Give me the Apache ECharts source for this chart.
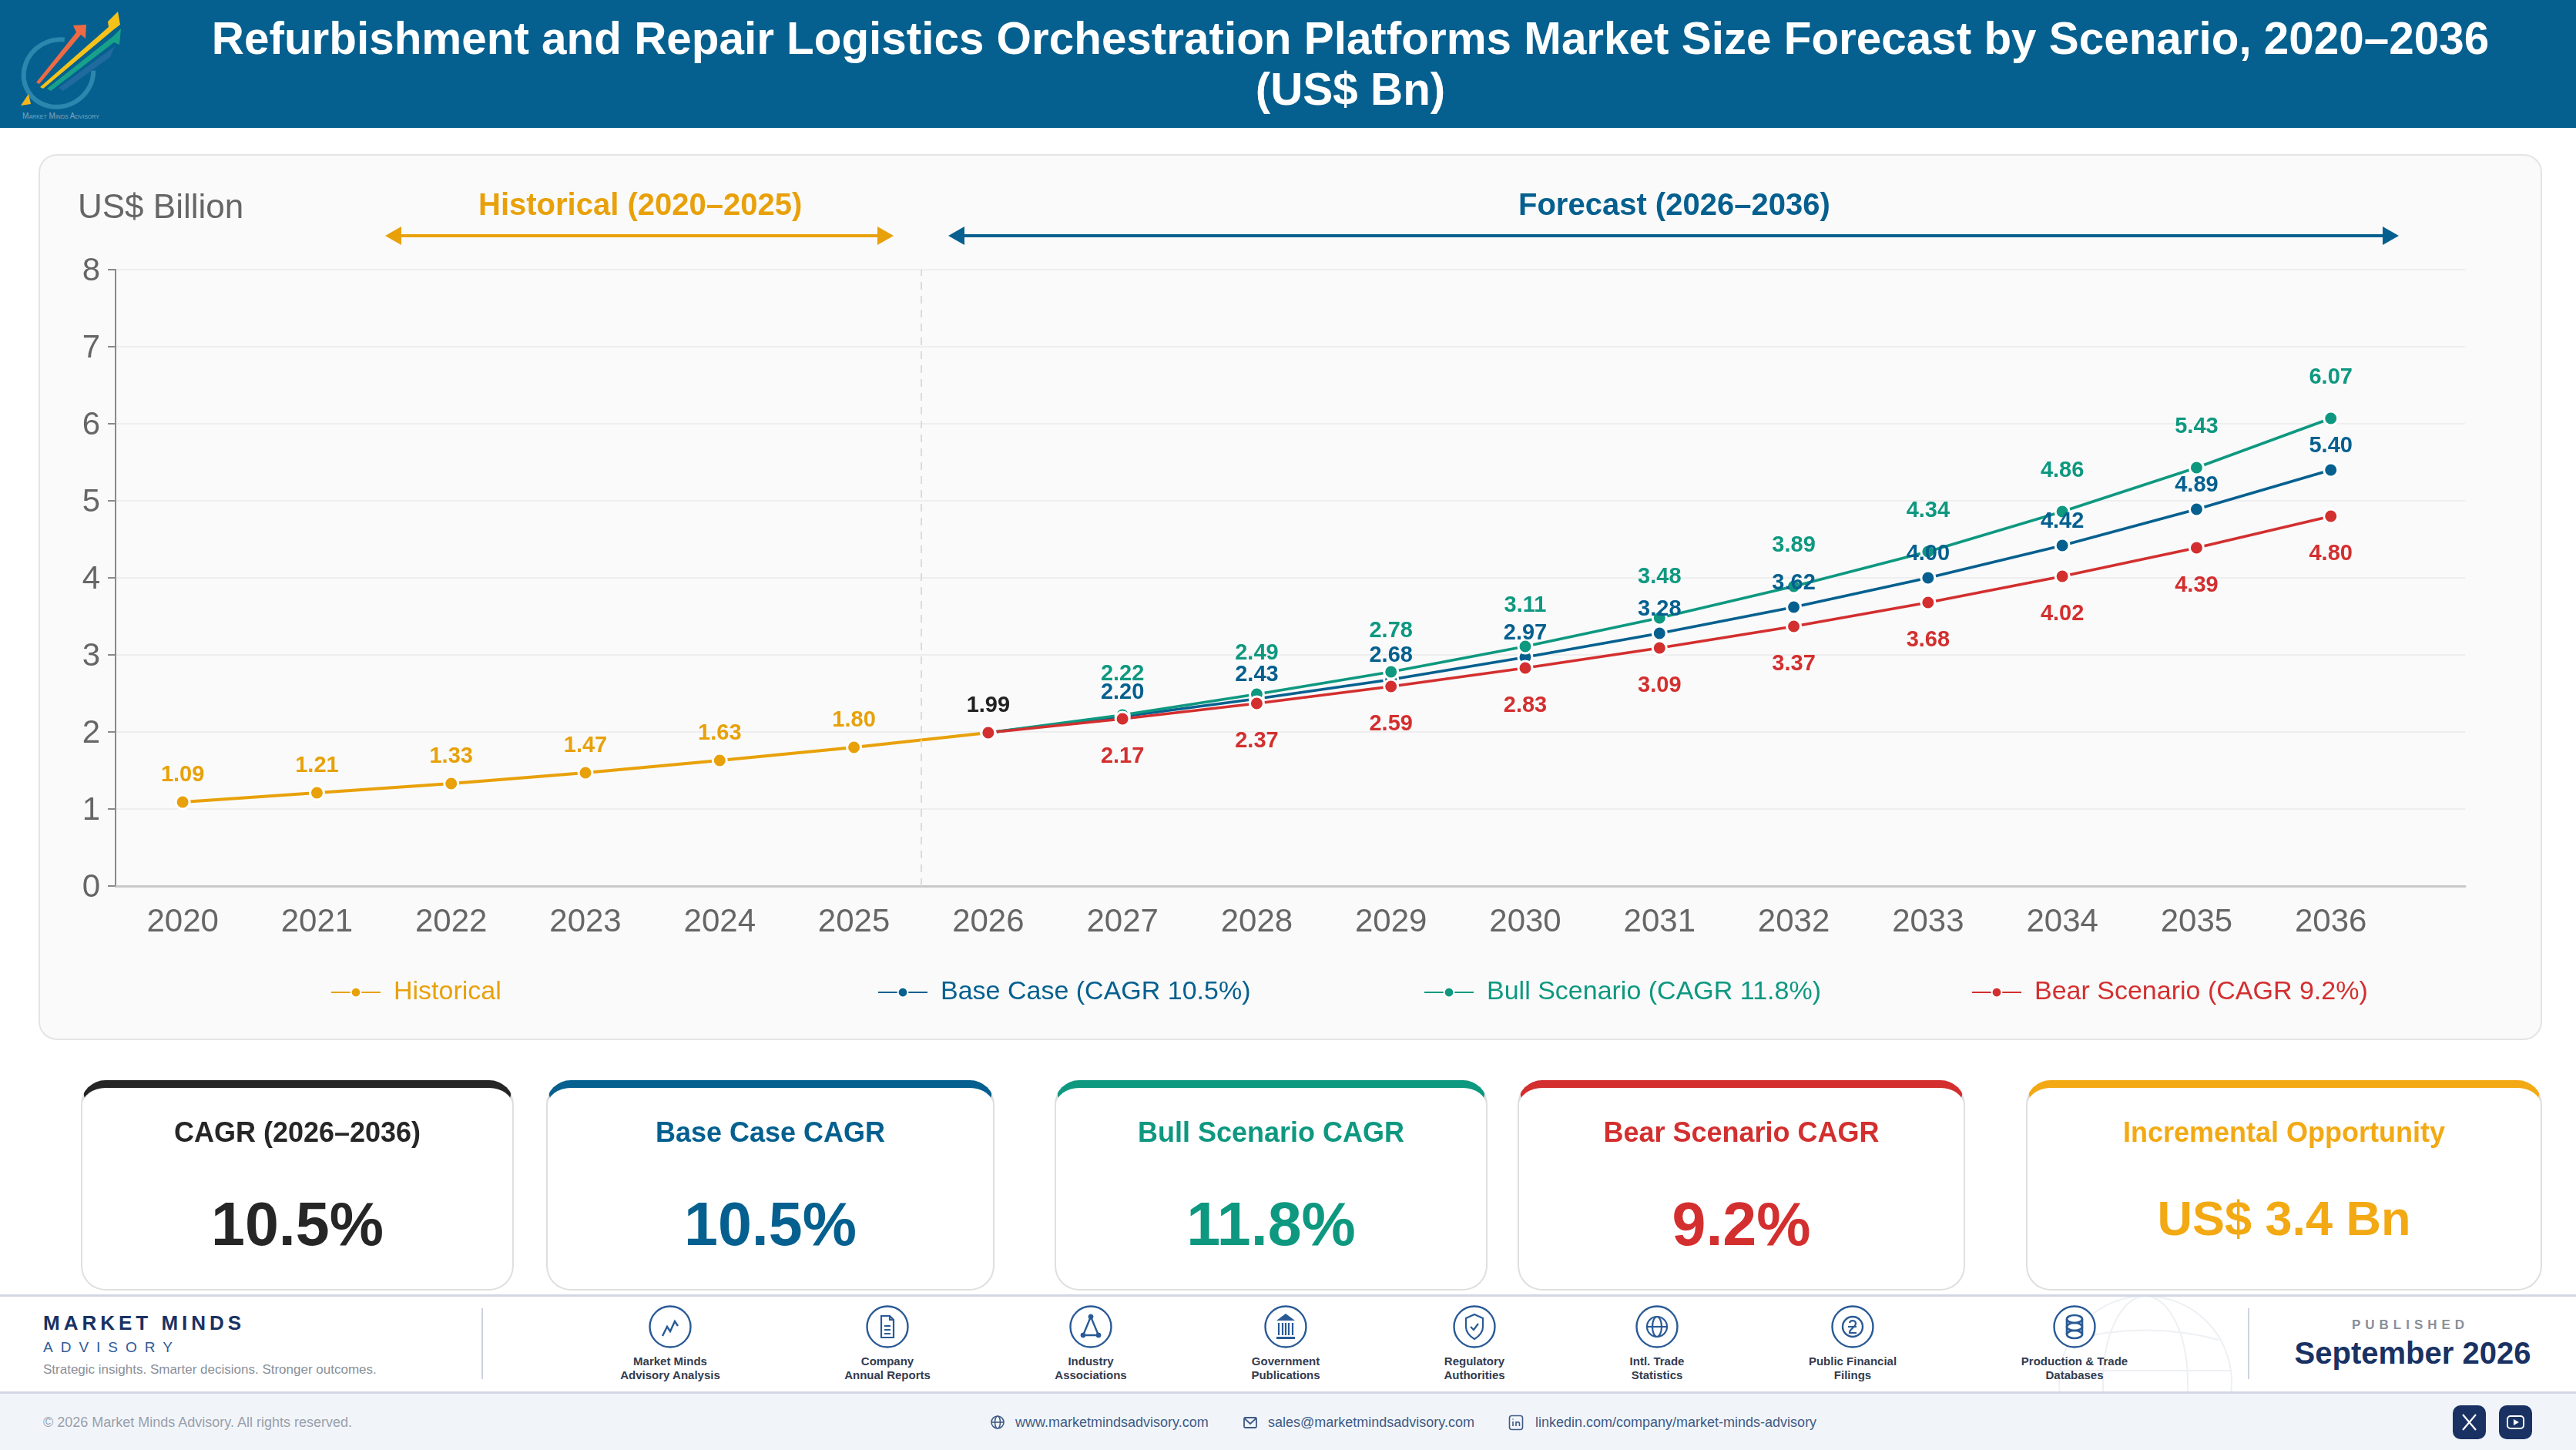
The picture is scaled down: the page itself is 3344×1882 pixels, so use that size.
<!DOCTYPE html>
<html><head><meta charset="utf-8">
<script src="https://cdn.jsdelivr.net/npm/echarts@6/dist/echarts.min.js"></script>
<style>
*{box-sizing:border-box}
html,body{margin:0;padding:0;background:#fff;width:3344px;height:1882px;overflow:hidden;font-family:"Liberation Sans",Arial,sans-serif}
.abs{position:absolute}
#header{left:0;top:0;width:3344px;height:166px;background:#05608f}
#title{left:162px;right:0;top:17px;width:3182px;text-align:center;color:#fff;font-weight:700;font-size:58.4px;line-height:66px}
#chartcard{left:50px;top:200px;width:3250px;height:1150px;background:#fafafa;border:2px solid #e4e4e4;border-radius:24px}
#chart{left:0;top:0;width:3344px;height:1882px}
.kpi{position:absolute;top:1402px;height:273px;background:#fff;border:2px solid #dfdfdf;border-top-width:10px;border-radius:32px;text-align:center}
.kpi .t{position:absolute;left:0;right:0;top:37px;font-size:36px;line-height:42px;font-weight:700}
.kpi .v{position:absolute;left:0;right:0;top:127px;font-size:79px;line-height:100px;font-weight:700}
.kpi.sm .v{font-size:63px;top:119px}
#foot1{left:0;top:1680px;width:3344px;height:129px;background:#fff;border-top:3px solid #d3d6e4;border-bottom:3px solid #d3d6e4;overflow:hidden}
#foot2{left:0;top:1809px;width:3344px;height:73px;background:#f1f5fa}
.vr{position:absolute;top:1698px;height:92px;width:2px;background:#cdd4e0}
.src{position:absolute;top:1694px;width:240px;margin-left:-120px;text-align:center}
.src svg{display:block;margin:0 auto}
.src div{margin-top:8px;font-size:15px;line-height:18px;font-weight:700;color:#333c50}
.txt{position:absolute;white-space:nowrap}
.contact{position:absolute;top:1835px;font-size:18px;line-height:22px;color:#3f5b85;white-space:nowrap}
.soc{position:absolute;top:1824px;width:43px;height:44px;border-radius:10px;background:#1a3263}
</style></head><body>
<div class="abs" id="header"></div>
<svg class="abs" style="left:0;top:0" width="170" height="166" viewBox="0 0 170 166">
  <ellipse cx="76" cy="95" rx="43" ry="46" fill="none" stroke="#2c86ad" stroke-width="6" stroke-dasharray="170 60" transform="rotate(60 76 95)"/>
  <polygon points="76,114 149,60 143,74 82,118" fill="#1f6ba0"/>
  <polygon points="61,115 147,47 157,37 155,58 148,55 66,118" fill="#17a08a"/>
  <polygon points="52,113 141,35 140,28 153,15 156,32 148,38 56,115" fill="#f6c21a"/>
  <polygon points="47,107 99,42 95,33 112,32 111,50 105,45 51,109" fill="#ee6a45"/>
  <polygon points="27,137 37,122 40,135" fill="#f6b51a"/>
  <text x="79" y="154" font-size="10" text-anchor="middle" fill="#7fa6bf" font-family="Liberation Sans" style="font-variant:small-caps">Market Minds Advisory</text>
</svg>
<div class="abs" id="title">Refurbishment and Repair Logistics Orchestration Platforms Market Size Forecast by Scenario, 2020–2036<br>(US$ Bn)</div>
<div class="abs" id="chartcard"></div>
<div class="abs" id="chart"></div>

<div class="kpi" style="left:105px;width:562px;border-top-color:#262626;color:#262626"><div class="t">CAGR (2026–2036)</div><div class="v">10.5%</div></div>
<div class="kpi" style="left:709px;width:582px;border-top-color:#05608f;color:#05608f"><div class="t">Base Case CAGR</div><div class="v">10.5%</div></div>
<div class="kpi" style="left:1369px;width:562px;border-top-color:#0e9880;color:#0e9880"><div class="t">Bull Scenario CAGR</div><div class="v">11.8%</div></div>
<div class="kpi" style="left:1970px;width:581px;border-top-color:#d32f2f;color:#d32f2f"><div class="t">Bear Scenario CAGR</div><div class="v">9.2%</div></div>
<div class="kpi sm" style="left:2630px;width:670px;border-top-color:#f2a913;color:#f2a913"><div class="t">Incremental Opportunity</div><div class="v">US$ 3.4 Bn</div></div>

<div class="abs" id="foot1">
  <svg style="position:absolute;left:2670px;top:-4px" width="230" height="130" viewBox="0 0 230 130" fill="none" stroke="#eef0f4" stroke-width="2">
    <circle cx="115" cy="115" r="112"/><ellipse cx="115" cy="115" rx="55" ry="112"/><line x1="3" y1="100" x2="227" y2="100"/><path d="M20 60 Q115 35 210 60"/>
  </svg>
</div>
<div class="abs" id="foot2"></div>
<div class="txt" style="left:56px;top:1702px;font-size:26px;line-height:30px;font-weight:700;letter-spacing:5px;color:#1a3263">MARKET MINDS</div>
<div class="txt" style="left:56px;top:1738px;font-size:19px;line-height:22px;letter-spacing:10px;color:#2f5a96">ADVISORY</div>
<div class="txt" style="left:56px;top:1768px;font-size:17px;line-height:20px;color:#8a8f98">Strategic insights. Smarter decisions. Stronger outcomes.</div>
<div class="vr" style="left:625px"></div>
<div class="vr" style="left:2918px"></div>
<div id="sources"></div>
<div class="txt" style="width:320px;left:2969px;text-align:center;top:1710px;font-size:17px;line-height:20px;font-weight:700;letter-spacing:6px;color:#8a8f98">PUBLISHED</div>
<div class="txt" style="width:400px;left:2932px;text-align:center;top:1733px;font-size:40px;line-height:46px;font-weight:700;color:#1a3263">September 2026</div>
<div class="txt" style="left:56px;top:1836px;font-size:18px;line-height:20px;color:#9aa0aa">© 2026 Market Minds Advisory. All rights reserved.</div>

<svg class="abs" style="left:1285px;top:1836px" width="20" height="20" viewBox="0 0 20 20" fill="none" stroke="#3f5b85" stroke-width="1.6"><circle cx="10" cy="10" r="8"/><ellipse cx="10" cy="10" rx="3.5" ry="8"/><line x1="2" y1="10" x2="18" y2="10"/></svg>
<div class="contact" style="left:1318px">www.marketmindsadvisory.com</div>
<svg class="abs" style="left:1613px;top:1836px" width="20" height="20" viewBox="0 0 20 20" fill="none" stroke="#3f5b85" stroke-width="1.8"><rect x="2" y="4" width="16" height="13" rx="1.5"/><path d="M2.5 5 L10 12 L17.5 5"/></svg>
<div class="contact" style="left:1646px">sales@marketmindsadvisory.com</div>
<svg class="abs" style="left:1958px;top:1836px" width="20" height="21" viewBox="0 0 20 21" fill="none" stroke="#3f5b85" stroke-width="1.6"><rect x="1.5" y="1.5" width="17" height="18" rx="3"/><path d="M6 9v6M6 5.5v1M10 15V9M10 11.5c1-2.5 4.5-2.5 4.5 .5V15"/></svg>
<div class="contact" style="left:1993px">linkedin.com/company/market-minds-advisory</div>
<div class="soc" style="left:3184px"><svg width="43" height="44" viewBox="0 0 43 44" fill="none" stroke="#fff" stroke-width="2.2"><path d="M13 12 L30 32 M30 12 L13 32"/></svg></div>
<div class="soc" style="left:3244px"><svg width="43" height="44" viewBox="0 0 43 44" fill="none" stroke="#fff" stroke-width="2"><rect x="11" y="14" width="21" height="16" rx="4"/><polygon points="19,18 26,22 19,26" fill="#fff" stroke="none"/></svg></div>

<script>
// ---- chart data ----
const years = [2020,2021,2022,2023,2024,2025,2026,2027,2028,2029,2030,2031,2032,2033,2034,2035,2036];
const historicalYears = years.slice(0,7);
const forecastYears = years.slice(6);
const historical = [1.09,1.21,1.33,1.47,1.63,1.80,1.99];
const baseCase = [1.99,2.20,2.43,2.68,2.97,3.28,3.62,4.00,4.42,4.89,5.40];
const bullCase = [1.99,2.22,2.49,2.78,3.11,3.48,3.89,4.34,4.86,5.43,6.07];
const bearCase = [1.99,2.17,2.37,2.59,2.83,3.09,3.37,3.68,4.02,4.39,4.80];
const yTicks = [0,1,2,3,4,5,6,7,8];
const seriesNames = ['Historical','Base Case (CAGR 10.5%)','Bull Scenario (CAGR 11.8%)','Bear Scenario (CAGR 9.2%)'];

const sources = [
 ['Market Minds','Advisory Analysis',870,'<path d="M8 32 L14 20 L18 26 L24 13 L28 19" fill="none" stroke-width="2.4" transform="translate(10 8)"/>'],
 ['Company','Annual Reports',1152,'<path d="M20 14h11l5 5v23H20z M31 14v5h5 M24 27h8 M24 32h8 M24 37h8" fill="none" stroke-width="2.2"/>'],
 ['Industry','Associations',1416,'<path d="M28 15 L18 39 H38 Z" fill="none" stroke-width="2.4"/><circle cx="28" cy="15" r="3" fill="#2a5a96"/><circle cx="18" cy="39" r="3" fill="#2a5a96"/><circle cx="38" cy="39" r="3" fill="#2a5a96"/>'],
 ['Government','Publications',1669,'<path d="M28 11 L40 20 H16 Z" fill="#2a5a96" stroke="none"/><path d="M19 23v16M24 23v16M28 23v16M32 23v16M37 23v16" stroke-width="2.2"/><rect x="16" y="41" width="24" height="3" fill="#2a5a96" stroke="none"/>'],
 ['Regulatory','Authorities',1914,'<path d="M28 12 L39 17 V28 C39 36 33 41 28 44 C23 41 17 36 17 28 V17 Z" fill="none" stroke-width="2.2"/><path d="M23 28 L27 32 L33 24" fill="none" stroke-width="2.2"/>'],
 ['Intl. Trade','Statistics',2151,'<circle cx="28" cy="28" r="13" fill="none" stroke-width="2.2"/><ellipse cx="28" cy="28" rx="6" ry="13" fill="none" stroke-width="2.2"/><path d="M15 28h26" stroke-width="2.2"/>'],
 ['Public Financial','Filings',2405,'<circle cx="28" cy="28" r="13" fill="none" stroke-width="2.4"/><path d="M24 23 C25 19 32 19 32 24 C32 29 24 30 24 36 H33 M22 28 H33" fill="none" stroke-width="2.2"/>'],
 ['Production & Trade','Databases',2693,'<ellipse cx="28" cy="18" rx="10" ry="5" fill="none" stroke-width="2.6"/><ellipse cx="28" cy="28" rx="10" ry="5" fill="none" stroke-width="2.6"/><ellipse cx="28" cy="38" rx="10" ry="5" fill="none" stroke-width="2.6"/><path d="M18 18v20M38 18v20" stroke-width="2.6"/>']
];
document.getElementById('sources').innerHTML = sources.map(s =>
 `<div class="src" style="left:${s[2]}px"><svg width="56" height="56" viewBox="0 0 56 56" stroke="#2a5a96"><circle cx="28" cy="28" r="26.5" fill="#fff" stroke-width="2.4"/>${s[3]}</svg><div>${s[0].replace('&','&amp;')}<br>${s[1]}</div></div>`).join('');

const C = {hist:'#e8a10a', base:'#05608f', bull:'#0e9880', bear:'#d32f2f', ink:'#222222', axis:'#666666'};
const marker = c => ({color:c, borderColor:'#ffffff', borderWidth:3});
const fmt = p => p.value[1].toFixed(2);
function mk(name, xs, ys, color, pos, dist, width, firstStyle){
  return {
    name, type:'line', symbol:'circle', symbolSize:18, showSymbol:true,
    lineStyle:{color, width}, itemStyle:marker(color),
    label:{show:true, position:pos, distance:dist, color, fontSize:29, fontWeight:700, fontFamily:'Liberation Sans', formatter:fmt},
    emphasis:{disabled:true}, animation:false, clip:false,
    data: xs.map((x,i)=>{
      const d = {value:[x, ys[i]]};
      if (firstStyle && firstStyle(i)) d.label = firstStyle(i);
      return d;
    })
  };
}
const S = [
  mk(seriesNames[0], historicalYears, historical, C.hist, 'top', 10, 4, i => i===6 ? {color:C.ink} : null),
  mk(seriesNames[1], forecastYears, baseCase, C.base, 'top', 6, 3.6, i => i===0 ? {show:false} : null),
  mk(seriesNames[2], forecastYears, bullCase, C.bull, 'top', 28, 3.6, i => i===0 ? {show:false} : null),
  mk(seriesNames[3], forecastYears, bearCase, C.bear, 'bottom', 24, 3.6, i => i===0 ? {show:false} : null)
];
S[0].markLine = {silent:true, symbol:'none', label:{show:false}, animation:false,
  lineStyle:{color:'#dcdcdc', type:[10,8], width:2}, data:[{xAxis:2025.5}]};

function arrow(x1,x2,y,color){
  return [
    {type:'rect', shape:{x:x1+10,y:y-2,width:x2-x1-20,height:4}, style:{fill:color}},
    {type:'polygon', shape:{points:[[x1,y],[x1+21,y-12],[x1+21,y+12]]}, style:{fill:color}},
    {type:'polygon', shape:{points:[[x2,y],[x2-21,y-12],[x2-21,y+12]]}, style:{fill:color}}
  ];
}
const ui = 'Liberation Sans';
const legendX = [424,1134,1843,2554];
const chart = echarts.init(document.getElementById('chart'), null, {renderer:'canvas'});
chart.setOption({
  backgroundColor:'transparent', animation:false,
  grid:{left:150, top:350, width:3050, height:800, containLabel:false},
  xAxis:{type:'value', min:2019.5, max:2037, splitLine:{show:false},
    axisLine:{show:true, onZero:true, lineStyle:{color:'#c8c8c8', width:3}}, axisTick:{show:false},
    axisLabel:{customValues:years, margin:26, fontSize:42, color:C.axis, fontFamily:ui, formatter:v=>String(v)}},
  yAxis:{type:'value', min:yTicks[0], max:yTicks[yTicks.length-1], interval:1,
    axisLine:{show:true, lineStyle:{color:'#8a8a8a', width:2}},
    axisTick:{show:true, length:10, lineStyle:{color:'#8a8a8a', width:2}},
    axisLabel:{margin:20, fontSize:42, color:C.axis, fontFamily:ui, verticalAlign:'top', lineHeight:4},
    splitLine:{show:true, lineStyle:{color:'#eeeeee', width:2}}},
  legend: seriesNames.map((n,i)=>({data:[n], left:legendX[i], top:1266, itemWidth:64, itemHeight:16, selectedMode:false,
    textStyle:{color:[C.hist,C.base,C.bull,C.bear][i], fontSize:34, fontFamily:ui, padding:[0,0,0,12]}})),
  graphic:[
    {type:'text', left:101, top:249, style:{text:'US$ Billion', fill:'#666666', font:'44px "Liberation Sans"'}},
    {type:'text', left:621, top:248, style:{text:'Historical (2020–2025)', fill:C.hist, font:'bold 40px "Liberation Sans"'}},
    {type:'text', left:1971, top:248, style:{text:'Forecast (2026–2036)', fill:C.base, font:'bold 40px "Liberation Sans"'}},
    ...arrow(500,1160,306,C.hist),
    ...arrow(1231,3114,306,C.base)
  ],
  series:S
});
</script>
</body></html>
